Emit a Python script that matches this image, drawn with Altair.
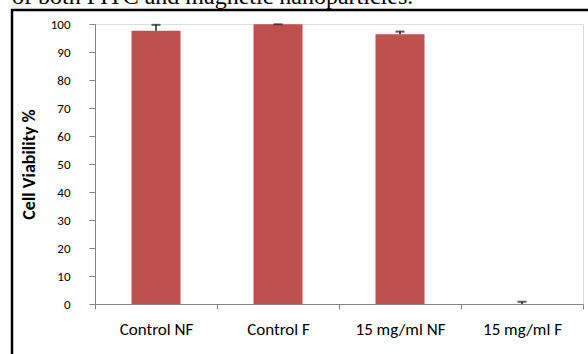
import altair as alt
import pandas as pd

categories = ["Control NF", "Control F", "15 mg/ml NF", "15 mg/ml  F"]
viability = [97.6, 99.9, 96.3, 0.0]
errors = [2.1, 0.0, 1.0, 0.8]
y_ticks = [0, 10, 20, 30, 40, 50, 60, 70, 80, 90, 100]
caption = "of both FITC and magnetic nanoparticles."
y_title = "Cell Viability %"

df = pd.DataFrame({"cat": categories, "v": viability, "e": errors})
df["top"] = df["v"] + df["e"]

FONT = "Carlito, Calibri, Lato, sans-serif"
x_axis = alt.Axis(labelAngle=0, tickBand="extent", tickSize=5,
                  domainColor="#868686", tickColor="#868686",
                  labelFont=FONT, labelFontSize=17, labelColor="#000000",
                  labelPadding=12)
x_scale = alt.Scale(paddingInner=0, paddingOuter=0)
y_axis = alt.Axis(values=y_ticks, tickCount=11, grid=False, tickSize=6,
                  labelOverlap=False, labelFlush=False,
                  domainColor="#868686", tickColor="#868686",
                  labelFont=FONT, labelFontSize=13, labelColor="#000000",
                  labelPadding=19,
                  titleFont=FONT, titleFontSize=18, titleFontWeight="bold",
                  titleColor="#000000", titlePadding=12)
y_scale = alt.Scale(domain=[0, 100], nice=False, zero=True)

bars = alt.Chart(df).mark_bar(color="#C0504D", size=49).encode(
    x=alt.X("cat:N", sort=categories, title=None, scale=x_scale, axis=x_axis),
    y=alt.Y("v:Q", scale=y_scale, title=y_title, axis=y_axis),
)

err_rule = alt.Chart(df).mark_rule(color="#1a1a1a", strokeWidth=1.5).encode(
    x=alt.X("cat:N", sort=categories, title=None, scale=x_scale, axis=x_axis),
    y=alt.Y("v:Q", scale=y_scale, title=y_title, axis=y_axis),
    y2="top:Q",
)
err_cap = alt.Chart(df).mark_tick(color="#1a1a1a", thickness=2, size=9, orient="horizontal").encode(
    x=alt.X("cat:N", sort=categories, title=None, scale=x_scale, axis=x_axis),
    y=alt.Y("top:Q", scale=y_scale, title=y_title, axis=y_axis),
)

one = pd.DataFrame({"t": [caption]})
cap_text = alt.Chart(one).mark_text(
    font="Liberation Serif", fontSize=24, align="left", baseline="alphabetic", color="#000000"
).encode(x=alt.value(-83), y=alt.value(-20), text="t:N")

frame = alt.Chart(one).mark_rect(fill=None, stroke="#000000", strokeWidth=2.5).encode(
    x=alt.value(-83), x2=alt.value(520), y=alt.value(-14), y2=alt.value(345)
)

chart = alt.layer(frame, cap_text, bars, err_rule, err_cap).properties(
    width=488, height=280,
    autosize=alt.AutoSizeParams(type="none"),
    padding={"left": 95, "top": 24, "right": 5, "bottom": 50},
).configure_view(stroke="#868686", strokeWidth=1).configure(background="white")

chart.save("out.html", embed_options={"renderer": "svg", "actions": False})
